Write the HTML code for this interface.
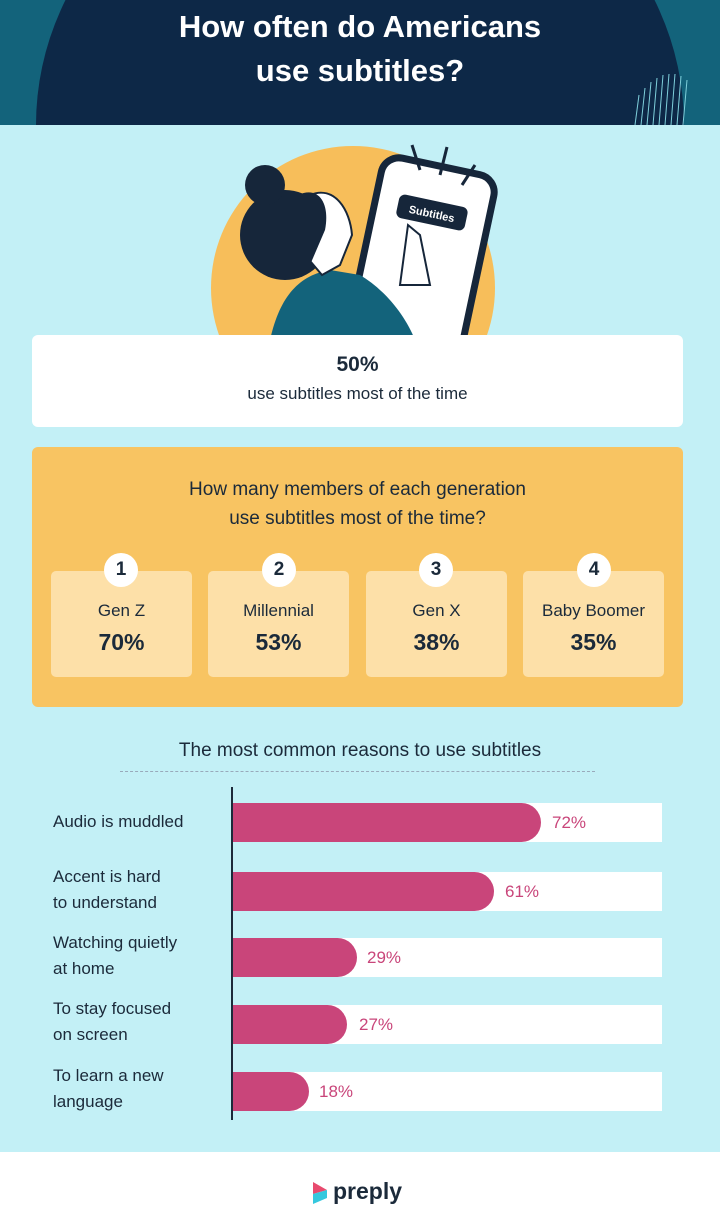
<!DOCTYPE html>
<html><head><style>
body{margin:0;width:720px;height:1220px;position:relative;overflow:hidden;font-family:"Liberation Sans",sans-serif;background:#c3f0f6}
.abs{position:absolute}
.t{color:#1b2a3a}
</style></head><body>
<div class="abs" style="left:0;top:0;width:720px;height:125px;background:#13637b;overflow:hidden">
  <div class="abs" style="left:36px;top:-175px;width:648px;height:600px;border-radius:50%;background:#0d2847"></div>
  <svg class="abs" style="left:630px;top:60px" width="60" height="65"><g stroke="#7fd0dc" stroke-width="1">
  <line x1="5" y1="65" x2="9" y2="35"/><line x1="11" y1="65" x2="15" y2="28"/><line x1="17" y1="65" x2="21" y2="22"/><line x1="23" y1="65" x2="27" y2="18"/><line x1="29" y1="65" x2="33" y2="15"/><line x1="35" y1="65" x2="39" y2="14"/><line x1="41" y1="65" x2="45" y2="14"/><line x1="47" y1="65" x2="51" y2="16"/><line x1="53" y1="65" x2="57" y2="20"/></g></svg>
  <div class="abs" style="left:0;width:720px;top:5px;text-align:center;color:#fff;font-weight:bold;font-size:31px;line-height:44px">How often do Americans<br>use subtitles?</div>
</div>
<svg class="abs" style="left:0;top:125px" width="720" height="215">
  <circle cx="353" cy="163" r="142" fill="#f7be5a"/>
  <g transform="rotate(12 425 130)">
    <rect x="365" y="40" width="115" height="205" rx="18" fill="#fff" stroke="#16263a" stroke-width="7"/>
    <rect x="388" y="75" width="70" height="24" rx="6" fill="#16263a"/>
    <text x="423" y="92" font-size="11" font-weight="bold" fill="#fff" text-anchor="middle" font-family="Liberation Sans">Subtitles</text>
  </g>
  <g stroke="#16263a" stroke-width="3"><line x1="412" y1="20" x2="420" y2="45"/><line x1="447" y1="22" x2="440" y2="50"/><line x1="475" y1="40" x2="462" y2="60"/></g>
  <path d="M270 215 C280 170 300 150 330 145 L360 150 C385 165 405 190 415 215 Z" fill="#13637b"/>
  <circle cx="285" cy="110" r="45" fill="#16263a"/>
  <circle cx="265" cy="60" r="20" fill="#16263a"/>
  <path d="M310 70 C335 60 350 85 352 110 L348 120 L340 140 L322 150 L305 130 Z" fill="#fff" stroke="#16263a" stroke-width="2"/>
  <path d="M298 70 C320 60 330 80 325 105 L310 140 L280 140 Z" fill="#16263a"/>
  <path d="M400 160 L408 100 L420 110 L430 160 Z" fill="#fff" stroke="#16263a" stroke-width="2"/>
</svg>
<div class="abs t" style="left:32px;top:335px;width:651px;height:92px;background:#fff;border-radius:6px;text-align:center">
  <div style="font-weight:bold;font-size:21px;margin-top:18px">50%</div>
  <div style="font-size:17px;margin-top:7px">use subtitles most of the time</div>
</div>
<div class="abs t" style="left:32px;top:447px;width:651px;height:260px;background:#f8c462;border-radius:6px">
  <div style="text-align:center;font-size:19px;line-height:29px;margin-top:28px">How many members of each generation<br>use subtitles most of the time?</div>
</div>
<div class="abs t" style="left:51px;top:571px;width:141px;height:106px;background:#fde0a8;border-radius:5px;text-align:center"><div style="margin-top:30px;font-size:17px">Gen Z</div><div style="margin-top:8px;font-size:23px;font-weight:bold">70%</div></div>
<div class="abs t" style="left:208px;top:571px;width:141px;height:106px;background:#fde0a8;border-radius:5px;text-align:center"><div style="margin-top:30px;font-size:17px">Millennial</div><div style="margin-top:8px;font-size:23px;font-weight:bold">53%</div></div>
<div class="abs t" style="left:366px;top:571px;width:141px;height:106px;background:#fde0a8;border-radius:5px;text-align:center"><div style="margin-top:30px;font-size:17px">Gen X</div><div style="margin-top:8px;font-size:23px;font-weight:bold">38%</div></div>
<div class="abs t" style="left:523px;top:571px;width:141px;height:106px;background:#fde0a8;border-radius:5px;text-align:center"><div style="margin-top:30px;font-size:17px">Baby Boomer</div><div style="margin-top:8px;font-size:23px;font-weight:bold">35%</div></div>
<div class="abs t" style="left:104px;top:553px;width:34px;height:34px;border-radius:50%;background:#fff;text-align:center;line-height:34px;font-weight:bold;font-size:19px">1</div>
<div class="abs t" style="left:262px;top:553px;width:34px;height:34px;border-radius:50%;background:#fff;text-align:center;line-height:34px;font-weight:bold;font-size:19px">2</div>
<div class="abs t" style="left:419px;top:553px;width:34px;height:34px;border-radius:50%;background:#fff;text-align:center;line-height:34px;font-weight:bold;font-size:19px">3</div>
<div class="abs t" style="left:577px;top:553px;width:34px;height:34px;border-radius:50%;background:#fff;text-align:center;line-height:34px;font-weight:bold;font-size:19px">4</div>
<div class="abs t" style="left:0;width:720px;top:740px;text-align:center;font-size:19px">The most common reasons to use subtitles</div>
<div class="abs" style="left:120px;top:771px;width:475px;border-top:1px dashed #9ab"></div>
<div class="abs" style="left:231px;top:787px;width:2px;height:333px;background:#1b2a3a"></div>
<div class="abs" style="left:233px;top:803px;width:429px;height:39px;background:#fff"></div>
<div class="abs" style="left:233px;top:803px;width:308px;height:39px;background:#c9457a;border-radius:0 20px 20px 0"></div>
<div class="abs" style="left:552px;top:813px;color:#c9457a;font-size:17px">72%</div>
<div class="abs" style="left:233px;top:872px;width:429px;height:39px;background:#fff"></div>
<div class="abs" style="left:233px;top:872px;width:261px;height:39px;background:#c9457a;border-radius:0 20px 20px 0"></div>
<div class="abs" style="left:505px;top:882px;color:#c9457a;font-size:17px">61%</div>
<div class="abs" style="left:233px;top:938px;width:429px;height:39px;background:#fff"></div>
<div class="abs" style="left:233px;top:938px;width:124px;height:39px;background:#c9457a;border-radius:0 20px 20px 0"></div>
<div class="abs" style="left:367px;top:948px;color:#c9457a;font-size:17px">29%</div>
<div class="abs" style="left:233px;top:1005px;width:429px;height:39px;background:#fff"></div>
<div class="abs" style="left:233px;top:1005px;width:114px;height:39px;background:#c9457a;border-radius:0 20px 20px 0"></div>
<div class="abs" style="left:359px;top:1015px;color:#c9457a;font-size:17px">27%</div>
<div class="abs" style="left:233px;top:1072px;width:429px;height:39px;background:#fff"></div>
<div class="abs" style="left:233px;top:1072px;width:76px;height:39px;background:#c9457a;border-radius:0 20px 20px 0"></div>
<div class="abs" style="left:319px;top:1082px;color:#c9457a;font-size:17px">18%</div>
<div class="abs t" style="left:53px;top:812px;font-size:17px">Audio is muddled</div>
<div class="abs t" style="left:53px;top:864px;font-size:17px;line-height:26px">Accent is hard<br>to understand</div>
<div class="abs t" style="left:53px;top:930px;font-size:17px;line-height:26px">Watching quietly<br>at home</div>
<div class="abs t" style="left:53px;top:996px;font-size:17px;line-height:26px">To stay focused<br>on screen</div>
<div class="abs t" style="left:53px;top:1063px;font-size:17px;line-height:26px">To learn a new<br>language</div>
<div class="abs" style="left:0;top:1152px;width:720px;height:68px;background:#fff"></div>
<svg class="abs" style="left:311px;top:1180px" width="18" height="26"><path d="M2 2 L16 10 L2 14 Z" fill="#e84a6e"/><path d="M2 14 L16 10 L16 18 L2 24 Z" fill="#35c8de"/></svg>
<div class="abs t" style="left:333px;top:1178px;font-size:23px;font-weight:bold">preply</div>
</body></html>
